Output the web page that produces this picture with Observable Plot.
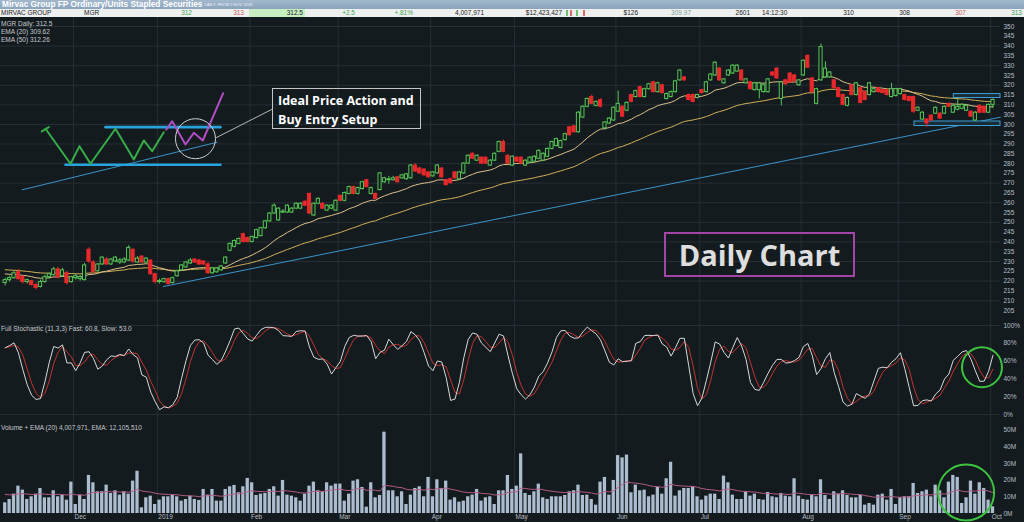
<!DOCTYPE html>
<html><head><meta charset="utf-8">
<script src="https://cdn.jsdelivr.net/npm/d3@7"></script>
<script src="https://cdn.jsdelivr.net/npm/@observablehq/plot@0.6"></script>
<style>
body{margin:0;background:#141b1f;font-family:"Liberation Sans",Arial,sans-serif;}
#wrap{position:relative;width:1024px;height:522px;overflow:hidden;background:#141b1f;}
.abs{position:absolute;white-space:nowrap;}
.titlebar{left:0;top:0;width:1024px;height:9px;background:linear-gradient(#a3b8cc,#8aa4bc);color:#fff;font-size:8.3px;font-weight:bold;line-height:9px;padding-left:2px;box-sizing:border-box}
.titlebar span{font-size:4px;font-weight:normal;color:#eef;margin-left:2px;vertical-align:top}
.quote{left:0;top:9px;width:1024px;height:8px;background:#eef0f0;}
.q{position:absolute;top:0;font-size:6.5px;line-height:8px;color:#222;white-space:nowrap}
.lbl{position:absolute;left:1px;font-size:6.5px;color:#c4c8cc;line-height:8px;white-space:nowrap}
.panel{position:absolute;left:0}
</style></head>
<body><div id="wrap">
<div class="abs titlebar">Mirvac Group FP Ordinary/Units Stapled Securities<span>DAILY, FROM 9 NOV 2018</span></div>
<div class="abs quote" id="quote"></div>
<div class="panel" id="p1" style="top:17px"></div>
<div class="panel" id="p2" style="top:318px"></div>
<div class="panel" id="p3" style="top:418px"></div>
<div class="lbl" style="top:20px">MGR Daily: 312.5</div>
<div class="lbl" style="top:28px">EMA (20) 309.62</div>
<div class="lbl" style="top:35.5px">EMA (50) 312.26</div>
<div class="lbl" style="top:325px">Full Stochastic (11,3,3) Fast: 60.8, Slow: 53.0</div>
<div class="lbl" style="top:423.5px">Volume + EMA (20) 4,007,971, EMA: 12,105,510</div>
<div class="abs" style="left:272px;top:88px;width:149px;height:41px;border:1px solid #c4c4c4;color:#fff;font-family:'Open Sans',sans-serif;font-weight:bold;font-size:12.5px;line-height:19px;padding:2px 0 0 5px;box-sizing:border-box">Ideal Price Action and<br>Buy Entry Setup</div>
<div class="abs" style="left:664px;top:232px;width:191px;height:45px;border:2px solid #a444a8;color:#dedede;font-family:'Open Sans',sans-serif;font-weight:bold;font-size:29px;line-height:41px;text-align:center;box-sizing:border-box">Daily Chart</div>
</div>
<script>
// ---- data ----
const opens = [219,220.5,221.5,224.5,222,219.5,220,218,217,219.5,
222,223,226,222.5,224,219.5,221.5,221,220.5,236,
229.5,225,228.5,231,228.5,230,229.5,229.5,230.5,236,
229.5,232.5,229.5,230.5,223.5,219.5,219.5,221,219,222.5,
225.5,227,229,231,230.5,230,228.5,224,224.5,225.5,
229,235.5,237.5,239,244,242,240,242,243,247,
250.5,254.5,251,255,255,255,257,257,260.5,264.5,
253.5,259.5,259.5,256,257,256,263.5,261,264.5,268,
264.5,267,271.5,264.5,264.5,266.5,270.5,271.5,271.5,273,
272.5,272,272.5,279,277.5,277,275.5,273.5,275,277.5,
271.5,272,275.5,272,275,280,285,281.5,283,283,
279,281.5,286,291,284,279,283,283,279,280.5,
281,282.5,281.5,283.5,287.5,289,288,292,298.5,299,
296,303.5,309,314,309.5,312.5,298,300.5,302,306.5,
309,307,315,314,319,314,318,321.5,316.5,320,
313,314,316.5,322.5,324,315,315,313.5,317.5,316.5,
322.5,325,328.5,321,325,326,327,327.5,321,321.5,
317.5,317.5,316.5,316.5,326.5,328.5,313,322.5,326,325,
320,325,335,323.5,310.5,322.5,324,324,322.5,318.5,
315,309.5,320,315,318.5,316.5,315,316.5,318.5,317.5,
317.5,314,314.5,315.5,315,314,314,307,302.5,302.5,
304.5,305.5,305.5,305.5,310.5,306,307.5,308,307,306.5,
302,309.5,309,306,310];
const highs = [221.5,222.5,225,226,223,221,220.5,219,220.5,223,
224,227,227,226.5,225,222.5,223.5,223,229,237,
230.5,229,232.5,232,231.5,232.5,231.5,232,238,236.5,
232.5,233,232,231,224,221,221.5,221.5,222,225.5,
228.5,230,231.5,231.5,231,230.5,229.5,227,227,228,
232.5,239.5,241,242,244.5,242.5,243,246.5,247.5,251,
255,259.5,257.5,256.5,259,257.5,260,260,261,265,
260,262.5,260,259,259,261.5,264,265.5,268.5,268.5,
268,271,272,268,265,275.5,273,273.5,273.5,273.5,
274.5,275,279.5,280,278,277.5,276,276,279.5,278,
272,272.5,276,276,280.5,284.5,285.5,284.5,283.5,283.5,
282,285.5,291.5,292,284.5,284,283.5,283.5,282,283.5,
284,287,285.5,288,291.5,293,292,295.5,299,299.5,
306.5,309.5,313.5,315,312,313,301.5,303.5,309,317,
309.5,311.5,315.5,317.5,319.5,318.5,321,322,321.5,320.5,
316,317,322.5,328,324.5,315.5,315.5,315.5,318,322,
326,332,329,323.5,328,330.5,330.5,328,323.5,322,
321.5,321.5,320.5,323.5,327,329,322,323,326.5,325.5,
323,333,335.5,324,318.5,341,332,327,323,319,
315.5,314,320.5,321.5,319,317,321.5,318.5,319,318,
318,321,318.5,318.5,315.5,314.5,314.5,309,306.5,303,
305,309,306,309.5,311,310,313.5,310.5,310,307,
306.5,310,309.5,310.5,313];
const lows = [217.5,219.5,221,220.5,218.5,218.5,217.5,215.5,216.5,219,
221,222.5,221,222,218,219,220.5,220,220,229,
224,224.5,228,228,228,229.5,228.5,229,230,229,
229,229,229,223,218.5,218.5,219,218,218.5,222,
225,226.5,228.5,229,228,228,223.5,223.5,224,225,
228.5,235,237,238.5,239.5,239.5,239.5,241.5,242.5,246.5,
250,254,250.5,254.5,254.5,254.5,256.5,256.5,258,254,
253,259,256.5,255.5,256.5,255.5,260.5,260.5,264,264,
264,266.5,267.5,264,261.5,266,270,269.5,271,270,
272,271.5,272,275.5,274.5,273.5,272.5,273,274.5,272.5,
268.5,269.5,272,271.5,274.5,279.5,282,281,279.5,279.5,
278.5,281,285.5,285.5,279.5,278.5,280.5,279.5,278.5,280,
280.5,282,281,283,287,288.5,287.5,291.5,294,295.5,
295.5,303,308.5,310,309,308.5,297,300,301.5,306,
303.5,306.5,311,313.5,313.5,313.5,317.5,316,316,315.5,
312.5,313.5,316,322,322,312,311,313,315.5,316,
322,324.5,322,320.5,324.5,325.5,326.5,322,320.5,317.5,
317,313,316,316,324.5,323,309.5,320,321,321.5,
319.5,324.5,328.5,316,310,322,323.5,323.5,318,313.5,
309.5,309,314.5,314.5,310.5,312,314.5,316,316,315.5,
314.5,313.5,314,315,312,311.5,305.5,306.5,302,298.5,
301.5,305,302.5,305,308.5,305.5,307,307.5,306.5,303.5,
301.5,305.5,305.5,305.5,308];
const closes = [220.5,221.5,224,221,219.5,220.5,218,216.5,219.5,222,
223.5,226,222,225.5,219,222,222.5,222,228,230,
224.5,228.5,232,228.5,231,232,230.5,231,237,230,
231.5,229.5,231.5,223.5,219.5,220,221,218.5,221.5,225,
228,229.5,230.5,229.5,228.5,228.5,224,226.5,226.5,227.5,
232,239,240.5,241.5,240,240,242.5,246,247,250.5,
254.5,258.5,257,255.5,258.5,257,259.5,259.5,258.5,254.5,
259.5,262,257,258.5,258.5,261,261,265,268,264.5,
267.5,270.5,268,267.5,262,275,272.5,272,272.5,270.5,
274,274.5,279,276,275,274,273,275.5,279,273,
269,270,272.5,275.5,280,284,282.5,284,280,280,
281.5,285,291,286,280,283.5,281,280,281.5,283,
283.5,286.5,285,287.5,291,292.5,291.5,295,294.5,296,
306,309,313,310.5,311.5,309,301,303,308.5,310.5,
304,311,311.5,317,314,318,320.5,316.5,321,316,
315.5,316.5,322,327.5,322.5,312.5,311.5,315,316,321.5,
325.5,331.5,322.5,323,327.5,330,330,322.5,323,318,
321,321,320,323,325,323.5,321.5,320.5,321.5,322,
322.5,332.5,329,316.5,318,339.5,328.5,326.5,318.5,314,
310,313.5,315,321,311,312.5,321,318,316.5,316,
315,318,318,318,312.5,312,306.5,308.5,306,300.5,
302,308.5,303,309,309,309.5,309,310,309.5,304,
306,306,306,310,312.5];
// volume in millions
const volumes = [6.4,8.4,11.6,16.4,14,8.4,10,11.6,15,9.4,
9.4,13.6,10,10.8,8,18.8,5.4,11,8.4,22.8,
18.4,13,13,17,12,13.6,11,13,11.6,19.4,
25.3,3.4,9.4,10.4,5.4,8,10,10,10.8,10,
7.4,8.4,10.4,8.4,7.8,14.4,11,14.4,7.4,7.4,
14.4,16,16.8,12.4,16,21,18.4,10.8,11.6,12,
14.4,16,10.4,19.8,11,10.4,9.4,7.4,11.6,16.4,
18.8,13.6,13,18.4,16.4,17.6,17.6,7.4,11.6,19.4,
20.2,15.6,3.8,18.4,9.4,10.8,48.7,13.6,13.6,10,
13,5.4,11,15,16,10,21.6,10,20.2,15,
19.4,8,9.4,6.8,7.4,10,11,14.4,7.4,9.4,
10,5.4,13.6,13.6,22.8,14.4,16.4,35.7,12,10.8,
13,17.6,9.4,8.4,10,10,10,10.8,13,13.6,
17,10.8,11,8.4,5,18.8,21.6,11,19.8,34.7,
33.3,35,12.4,17,13.6,14,10,11,15.6,11.6,
20.8,30.7,10.4,13.6,15,15,16,10,8,10.4,
11.6,11.6,8.4,22.4,18.4,11,8.4,8.4,13,10.4,
11.6,8.4,8,12.6,10,9.4,12,10.4,10,20.8,
10.4,8.4,8,11,10,20.2,10.8,8.4,13,11.6,
13.6,10.8,9.4,9.4,11,5,6,5,11,11.6,
8,14.4,5.4,9.4,10,10,18,12,13,14,
10,17,13.6,9.4,18.8,22.8,21.6,6,9.4,19.4,
11.6,18.4,15,8,4];
// indicator seeds read at the left edge
const ema20Seed = 224, ema50Seed = 226, volEmaSeed = 12;
// first trading day index of each month, and their labels
const monthIdx = [16,35,56,76,97,116,139,158,181,203,224];
const monthNames = ["Dec","2019","Feb","Mar","Apr","May","Jun","Jul","Aug","Sep","Oct"];
const priceTicks = [205,210,215,220,225,230,235,240,245,250,255,260,265,270,275,280,285,290,295,300,305,310,315,320,325,330,335,340,345,350];
const priceGrid = [210,220,230,240,250,260,270,280,290,300,310,320,330,340,350];
const stochTicks = [0,20,40,60,80,100];
const volTicks = [0,10,20,30,40,50];
// annotation drawings (in bar index / value coordinates)
const zigGreen = [[9.14,297.8],[14.81,279.9],[16.85,288.9],[19.34,279.9],[25.01,297.8],[29.16,282.1],[31.43,291.8],[33.33,286.3],[35.96,296.0]];
const zigTick = [[8.3,296.4],[9.9,298.6]];
const boxTopLine = [[22.74,298.6],[48.82,298.6]];
const boxBottomLine = [[13.67,279.4],[48.82,279.4]];
const zigPurple = [[36.5,297.3],[37.87,301.65],[40.88,289.75],[42.77,295.7],[44.81,291.8],[49.43,315.95]];
const setupCircle = [[43.15,292.7]];
const setupTrend = [[3.85,266.6],[48.07,290.9]];
const leaderLine = [[47.9,293.3],[60.4,307.6]];
const longTrend = [[35.9,217.25],[225.7,303.7]];
const rangeBoxes = [{x1:215.1,x2:225.7,y1:313.5,y2:315.5},{x1:206.2,x2:225.7,y1:299.2,y2:301.5}];
const stochCircle = [[221.5,53.1]];
const volCircle = [[217.9,12.6]];
const quoteCells = [
  ["MIRVAC GROUP","#222",1,"l"],["MGR","#222",84,"l"],["312","#3fa34d",192,"r"],["313","#c95858",244,"r"],
  ["312.5","#222",303,"r"],["+2.5","#3fa34d",355,"r"],["+.81%","#3fa34d",413,"r"],["4,007,971","#222",484,"r"],
  ["$12,423,427","#222",562,"r"],["$126","#222",638,"r"],["309.97","#7a9a9a",691,"r"],["2601","#222",750,"r"],
  ["14:12:30","#222",762,"l"],["310","#222",854,"r"],["308","#222",910,"r"],["307","#c95858",966,"r"],["313","#3fa34d",1022,"r"]];

// ---- build ----
const GRID="#252f34", AXIS="#b7bec4", BG="#141b1f", GREEN="#55c655", RED="#e8292c";
const xDomain = [-1.066, 225.7];
function ema(vals, n, seed){ const k=2/(n+1); let e=seed; return vals.map(v => (e = v*k + e*(1-k))); }
const e20 = ema(closes,20,ema20Seed), e50 = ema(closes,50,ema50Seed);
const candles = closes.map((c,i)=>({i, o:opens[i], h:highs[i], l:lows[i], c, e20:e20[i], e50:e50[i]}));
const raw = closes.map((c,i)=>{const s=Math.max(0,i-10);const hh=d3.max(highs.slice(s,i+1)),ll=d3.min(lows.slice(s,i+1));return (c-ll)/(hh-ll)*100;});
const sma3 = a => a.map((v,i)=>d3.mean(a.slice(Math.max(0,i-2),i+1)));
const fast = sma3(raw), slow = sma3(fast);
const stoch = fast.map((f,i)=>({i,f,s:slow[i]}));
const vEma = ema(volumes,20,volEmaSeed);
const vols = volumes.map((v,i)=>({i,v,e:vEma[i]}));
const months = monthIdx.map((m,k)=>({x:m-0.5, name:monthNames[k]}));
const common = {width:1024, marginLeft:0, marginRight:24, marginTop:0, style:{background:"transparent", fontFamily:"Liberation Sans, Arial, sans-serif", overflow:"visible"}};
const axisOpts = {anchor:"right", tickSize:0, tickPadding:3, fill:AXIS, fontSize:6.5};

const p1 = Plot.plot({...common, height:301, marginBottom:0,
  x:{domain:xDomain, axis:null}, y:{domain:[200.9,354.6], axis:null},
  marks:[
    Plot.ruleY(priceGrid,{stroke:GRID}),
    Plot.ruleX(months,{x:"x", stroke:GRID}),
    Plot.axisY(priceTicks,{...axisOpts}),
    Plot.line(longTrend,{x:d=>d[0], y:d=>d[1], stroke:"#3b93cc", strokeWidth:1}),
    Plot.line(setupTrend,{x:d=>d[0], y:d=>d[1], stroke:"#3b93cc", strokeWidth:1}),
    Plot.line(leaderLine,{x:d=>d[0], y:d=>d[1], stroke:"#b8b8b0", strokeWidth:1}),
    Plot.line(boxTopLine,{x:d=>d[0], y:d=>d[1], stroke:"#27a3dd", strokeWidth:2.6}),
    Plot.line(boxBottomLine,{x:d=>d[0], y:d=>d[1], stroke:"#27a3dd", strokeWidth:2.6}),
    Plot.line(zigGreen,{x:d=>d[0], y:d=>d[1], stroke:"#36ad48", strokeWidth:2}),
    Plot.line(zigTick,{x:d=>d[0], y:d=>d[1], stroke:"#36ad48", strokeWidth:2}),
    Plot.line(zigPurple,{x:d=>d[0], y:d=>d[1], stroke:"#b04cc4", strokeWidth:2}),
    Plot.dot(setupCircle,{x:d=>d[0], y:d=>d[1], r:20, stroke:"#d0d0d0", fill:"none", strokeWidth:1}),
    Plot.rect(rangeBoxes,{x1:"x1",x2:"x2",y1:"y1",y2:"y2", stroke:"#3c9fd6", fill:"#1a2c36", strokeWidth:1}),
    Plot.line(candles,{x:"i", y:"e50", stroke:"#cfae55", strokeWidth:1}),
    Plot.line(candles,{x:"i", y:"e20", stroke:"#dcc08a", strokeWidth:1}),
    Plot.ruleX(candles,{x:"i", y1:"l", y2:"h", stroke:d=>d.c>=d.o?GREEN:RED, strokeWidth:1}),
    Plot.rect(candles,{x1:d=>d.i-0.36, x2:d=>d.i+0.36, y1:"o", y2:"c", fill:d=>d.c>=d.o?BG:RED, stroke:d=>d.c>=d.o?GREEN:RED, strokeWidth:1})
  ]});
document.getElementById("p1").append(p1);

const p2 = Plot.plot({...common, height:100, marginBottom:0,
  x:{domain:xDomain, axis:null}, y:{domain:[-4.5,107.9], axis:null},
  marks:[
    Plot.ruleY([0,100],{stroke:GRID}),
    Plot.ruleX(months,{x:"x", stroke:GRID}),
    Plot.axisY(stochTicks,{...axisOpts, tickFormat:d=>d+"%"}),
    Plot.line(stoch,{x:"i", y:"s", stroke:"#c0332e", strokeWidth:1}),
    Plot.line(stoch,{x:"i", y:"f", stroke:"#d8d8d8", strokeWidth:1}),
    Plot.dot(stochCircle,{x:d=>d[0], y:d=>d[1], r:20, stroke:"#3cc43e", fill:"none", strokeWidth:2})
  ]});
document.getElementById("p2").append(p2);

const p3 = Plot.plot({...common, height:104, marginBottom:9,
  x:{domain:xDomain, axis:null}, y:{domain:[0,56.9], axis:null},
  marks:[
    Plot.ruleX(months,{x:"x", stroke:GRID}),
    Plot.rectY(vols,{x1:d=>d.i-0.37, x2:d=>d.i+0.37, y:"v", fill:"#acbdd0"}),
    Plot.line(vols,{x:"i", y:"e", stroke:"#b25a84", strokeWidth:1}),
    Plot.axisY(volTicks,{...axisOpts, tickFormat:d=>d+"M"}),
    Plot.text(months,{x:"x", text:"name", frameAnchor:"bottom", dy:5, dx:1, textAnchor:"start", fill:AXIS, fontSize:6.5}),
    Plot.dot(volCircle,{x:d=>d[0], y:d=>d[1], r:28, stroke:"#3cc43e", fill:"none", strokeWidth:2})
  ]});
document.getElementById("p3").append(p3);

// quote row
const q = document.getElementById("quote");
const hl = document.createElement("div");
hl.style.cssText = "position:absolute;left:249px;top:0;width:56px;height:8px;background:#c6eec2";
q.append(hl);
for (const [t,c,x,a] of quoteCells){
  const s=document.createElement("div"); s.className="q"; s.textContent=t; s.style.color=c;
  if(a==="l") s.style.left=x+"px"; else s.style.right=(1024-x)+"px";
  q.append(s);
}
[["#6cc46c",566],["#d86a6a",570],["#6cc46c",576],["#d86a6a",583]].forEach(([c,x])=>{
  const b=document.createElement("div"); b.style.cssText=`position:absolute;left:${x}px;top:1px;width:2px;height:6px;background:${c}`; q.append(b);
});
</script>
</body></html>
